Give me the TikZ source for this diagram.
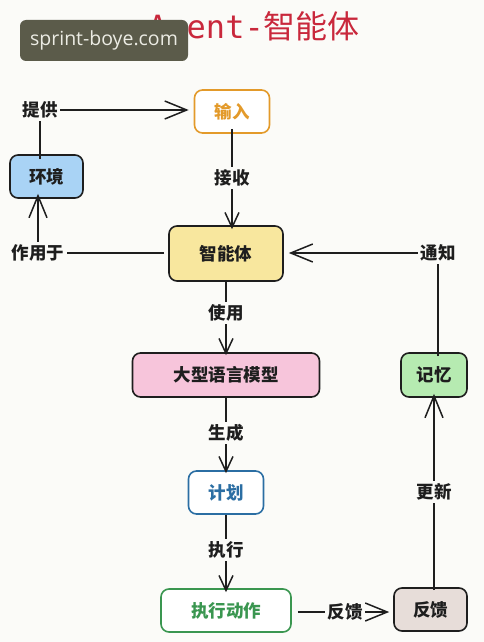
\documentclass[tikz,border=0pt]{standalone}
\usepackage{fontspec}
\setmainfont{Noto Sans CJK SC}
\newfontfamily\cjk{Noto Sans CJK SC}
\newfontfamily\monof{DejaVu Sans Mono}
\newfontfamily\wmfont{Open Sans}
\usetikzlibrary{arrows.meta}
\definecolor{bgc}{HTML}{FBFBF8}
\definecolor{titlered}{HTML}{C9283C}
\definecolor{wmbg}{HTML}{5B5B4A}
\definecolor{wmtx}{HTML}{ECECE4}
\definecolor{inorange}{HTML}{E39A2A}
\definecolor{envblue}{HTML}{A9D3F5}
\definecolor{agyellow}{HTML}{F8E79E}
\definecolor{llmpink}{HTML}{F7C5DB}
\definecolor{memgreen}{HTML}{B6EBB1}
\definecolor{planblue}{HTML}{2B6EA3}
\definecolor{actgreen}{HTML}{3A9650}
\definecolor{fbgray}{HTML}{E7DDD9}
\definecolor{ink}{HTML}{1E1E1E}
\tikzset{
  box/.style={draw=ink, line width=1.6pt, rounded corners=8pt, minimum height=43pt, font=\cjk\bfseries\fontsize{17.5}{20}\selectfont, text=ink, inner sep=0pt},
  elabel/.style={font=\cjk\bfseries\fontsize{17.5}{20}\selectfont, text=ink, inner sep=2.5pt},
  conn/.style={draw=ink, line width=1.5pt},
  arr/.style={conn, -{Straight Barb[length=15pt, width=14pt, line width=1.5pt]}},
  arrlong/.style={conn, -{Straight Barb[length=22pt, width=18pt, line width=1.5pt]}},
}
\begin{document}
\begin{tikzpicture}[x=1pt, y=-1pt]
\fill[bgc] (0,0) rectangle (484,642);
\useasboundingbox (0,0) rectangle (484,642);
% title
\node[text=titlered, font=\fontsize{32}{34}\selectfont, inner sep=0pt, anchor=west] (title) at (148,28) {{\monof Agent-}{\cjk 智能体}};
% watermark
\node[fill=wmbg, rounded corners=6pt, minimum width=168pt, minimum height=41pt, text=wmtx, font=\wmfont\fontsize{19.5}{22}\selectfont, inner sep=0pt] (wm) at (104,40.5) {sprint-boye.com};
% nodes
\node[box, draw=inorange, fill=white, text=inorange, minimum width=75pt] (input) at (232,111.5) {输入};
\node[box, fill=envblue, minimum width=73pt] (env) at (46.5,176.5) {环境};
\node[box, fill=agyellow, minimum width=114pt, minimum height=55pt] (agent) at (226,253.5) {智能体};
\node[box, fill=llmpink, minimum width=187pt, minimum height=44pt] (llm) at (226,375) {大型语言模型};
\node[box, fill=memgreen, minimum width=66pt, minimum height=44pt] (mem) at (434,375) {记忆};
\node[box, draw=planblue, fill=white, text=planblue, minimum width=75pt] (plan) at (226,492.5) {计划};
\node[box, draw=actgreen, fill=white, text=actgreen, minimum width=130pt] (act) at (226,610.5) {执行动作};
\node[box, fill=fbgray, minimum width=73pt] (fb) at (430.5,609.5) {反馈};
% edge labels
\node[elabel] (lprov) at (40,110) {提供};
\node[elabel] (lrecv) at (232,178) {接收};
\node[elabel] (lact) at (38,253) {作用于};
\node[elabel] (luse) at (226,313) {使用};
\node[elabel] (lgen) at (226,433) {生成};
\node[elabel] (lexe) at (226,550) {执行};
\node[elabel] (lfb) at (345,612) {反馈};
\node[elabel] (lupd) at (434,492) {更新};
\node[elabel] (lnot) at (438,253) {通知};
% connectors
\draw[conn] ([yshift=-5pt]env.north -| lprov) -- (lprov.south);
\draw[arrlong] (lprov.east) -- ([xshift=-5pt]input.west |- lprov.east);
\draw[conn] ([yshift=5pt]input.south -| lrecv) -- (lrecv.north);
\draw[arr] (lrecv.south) -- ([yshift=-4pt]agent.north -| lrecv);
\draw[conn] ([xshift=-4pt]agent.west |- lact.east) -- (lact.east);
\draw[arrlong] (lact.north) -- ([yshift=5pt]env.south -| lact);
\draw[conn] (agent.south -| luse) -- (luse.north);
\draw[arr] (luse.south) -- ([yshift=-3pt]llm.north -| luse);
\draw[conn] (llm.south -| lgen) -- (lgen.north);
\draw[arr] (lgen.south) -- ([yshift=-3pt]plan.north -| lgen);
\draw[conn] (plan.south -| lexe) -- (lexe.north);
\draw[arr] (lexe.south) -- ([yshift=-4pt]act.north -| lexe);
\draw[conn] ([xshift=6pt]act.east |- lfb.west) -- (lfb.west);
\draw[arrlong] (lfb.east) -- ([xshift=-4pt]fb.west |- lfb.east);
\draw[conn] ([yshift=-3pt]fb.north -| lupd) -- (lupd.south);
\draw[arrlong] (lupd.north) -- ([yshift=4pt]mem.south -| lupd);
\draw[conn] ([yshift=-4pt]mem.north -| lnot) -- (lnot.south);
\draw[arrlong] (lnot.west) -- ([xshift=5pt]agent.east |- lnot.west);
\end{tikzpicture}
\end{document}
